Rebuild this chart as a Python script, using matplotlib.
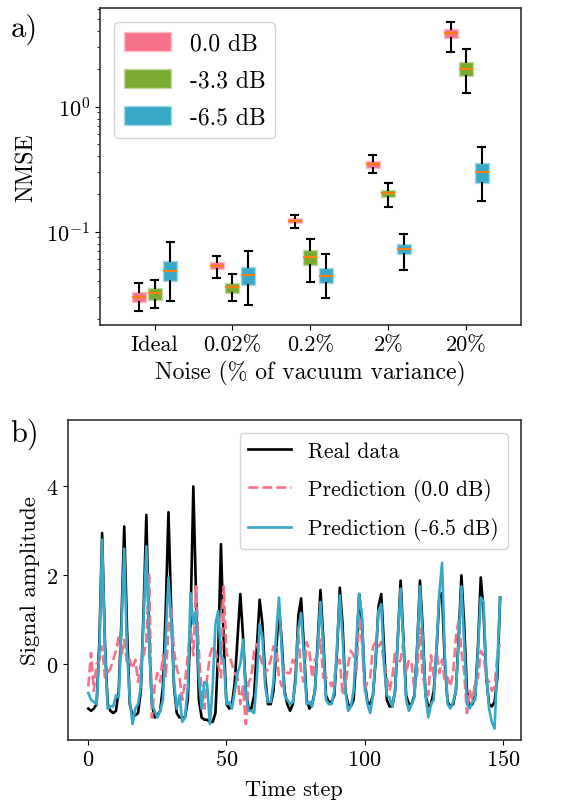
import matplotlib
matplotlib.use("Agg")
import matplotlib.pyplot as plt
from matplotlib.patches import Patch
from matplotlib.colors import to_rgb

plt.rcParams["font.family"] = ["cmr10", "DejaVu Sans"]
plt.rcParams["mathtext.fontset"] = "cm"
plt.rcParams["axes.formatter.use_mathtext"] = True
plt.rcParams["font.size"] = 16

# panel a: NMSE box statistics per attenuation level (rows) and noise level (columns)
noise_labels = ["Ideal", "0.02%", "0.2%", "2%", "20%"]
level_labels = ["0.0 dB", "-3.3 dB", "-6.5 dB"]
level_colors = ["#f77189", "#79ab31", "#38a9c6"]

nmse_median = [
    [0.0300, 0.0535, 0.1225, 0.346, 3.87],
    [0.0321, 0.0359, 0.0631, 0.203, 1.98],
    [0.0482, 0.0448, 0.0445, 0.0731, 0.302],
]
nmse_q1 = [
    [0.0275, 0.0503, 0.1167, 0.325, 3.52],
    [0.0284, 0.0321, 0.0545, 0.188, 1.74],
    [0.0401, 0.0377, 0.0389, 0.0663, 0.245],
]
nmse_q3 = [
    [0.0327, 0.0569, 0.128, 0.366, 4.16],
    [0.0352, 0.0387, 0.0714, 0.216, 2.29],
    [0.0586, 0.0519, 0.0515, 0.0797, 0.355],
]
nmse_low = [
    [0.0233, 0.0429, 0.1076, 0.293, 2.74],
    [0.0247, 0.0277, 0.0396, 0.156, 1.28],
    [0.0277, 0.0259, 0.0297, 0.0497, 0.175],
]
nmse_high = [
    [0.0387, 0.0640, 0.136, 0.408, 4.70],
    [0.0411, 0.0459, 0.0869, 0.245, 2.86],
    [0.0827, 0.0705, 0.0659, 0.0964, 0.479],
]

# panel b: time series
real_data = [
    -1.00, -1.05, -1.00, -0.90, 0.50, 2.95, 0.50, -0.90, -1.05, -1.10,
    -1.05, -0.60, 1.00, 3.10, 0.80, -0.90, -1.15, -1.15, -1.10, -0.60,
    1.20, 3.36, 0.60, -0.90, -1.20, -1.15, -1.05, -0.50, 1.20, 3.42,
    1.20, -0.50, -1.10, -1.20, -1.20, -1.20, -0.80, 1.00, 4.00, 1.50,
    -0.80, -1.20, -1.25, -1.25, -1.30, -1.30, -1.10, 0.30, 2.70, 0.50,
    -0.90, -1.00, -0.90, -0.40, 0.60, 1.58, 0.60, -0.60, -1.00, -1.00,
    -0.70, 0.40, 1.45, 0.90, -0.30, -0.90, -0.90, -0.60, 0.30, 1.30,
    0.50, -0.60, -0.90, -1.05, -0.90, -0.30, 1.10, 1.48, 0.40, -0.80,
    -1.00, -0.90, -0.60, 0.50, 1.67, 0.60, -0.70, -0.85, -0.85, -0.70,
    0.30, 1.72, 0.90, -0.60, -0.90, -0.95, -0.80, 0.20, 1.58, 1.00,
    -0.40, -0.85, -0.90, -0.70, 0.10, 1.30, 1.58, 0.40, -0.80, -0.95,
    -0.95, -0.60, 0.60, 1.88, 0.60, -0.70, -0.90, -0.90, -0.70, 0.40,
    1.88, 0.80, -0.70, -0.95, -0.90, -0.60, 0.30, 1.50, 1.60, 0.00,
    -0.85, -0.95, -0.90, -0.60, 0.60, 2.00, 0.90, -0.60, -0.95, -0.90,
    -0.70, 0.40, 1.95, 1.20, -0.30, -0.90, -0.95, -0.85, -0.30, 1.50,
]
pred_0db = [
    -0.50, 0.25, -0.60, 0.00, 0.10, 0.40, -0.30, -0.20, -0.10, 0.10,
    0.30, 0.60, 0.20, 0.55, 0.00, 0.10, -0.10, 0.10, -0.40, 0.00,
    0.20, 0.50, 2.05, -1.20, -0.50, -0.20, -0.40, 0.20, -0.30, 0.80,
    1.30, 0.30, -0.10, -0.30, -0.80, -0.40, 0.20, 0.80, 0.20, 1.75,
    0.30, -0.60, -1.00, -0.30, 0.20, 0.40, 0.30, 0.00, -0.30, 1.75,
    0.20, 0.20, 0.00, -0.20, -0.30, -0.90, -0.50, -1.35, -0.40, -0.30,
    0.30, 0.45, 0.20, 0.00, -0.20, -0.10, 0.10, 0.40, 0.40, -0.30,
    -0.50, -0.10, -0.20, -0.20, 0.10, 0.00, 0.70, -0.20, -0.40, 0.50,
    0.30, -0.30, 0.10, 0.20, 0.55, -0.30, -0.30, -0.35, -0.50, -0.30,
    0.00, 0.10, -0.70, -0.50, 0.00, 0.30, 0.20, -0.20, 1.05, 0.50,
    -0.60, -0.40, -0.30, 0.40, 0.50, 0.40, 0.50, 0.00, -0.30, -0.60,
    -0.30, 0.30, 0.00, 0.10, 0.50, -0.20, 0.10, 0.00, -0.60, -0.20,
    0.80, -0.30, -0.50, -0.70, 0.20, -0.30, 0.30, -0.20, 0.10, -0.40,
    -0.30, -0.50, -0.20, 0.60, 1.00, 0.30, -0.20, -1.10, -0.60, -0.80,
    -0.40, -0.30, 0.30, 0.20, -0.30, -0.40, -0.60, -0.50, 0.20, 0.50,
]
pred_65db = [
    -0.65, -0.80, -0.85, -0.90, 0.30, 2.80, 0.40, -1.00, -0.95, -0.95,
    -0.70, -0.75, 0.80, 2.60, 0.30, -0.80, -1.35, -1.00, -0.90, -0.50,
    1.00, 2.65, 0.50, -0.90, -1.05, -1.20, -1.05, -0.80, 0.60, 1.95,
    1.00, -0.40, -1.00, -0.70, -1.30, -1.20, -0.50, 1.60, 0.90, 1.20,
    -0.30, -1.00, -0.40, -0.45, -1.35, -0.50, 0.90, 1.20, 0.20, 0.10,
    -0.90, -0.85, -1.00, -0.60, -0.20, 0.00, 0.55, -0.70, -1.05, -1.05,
    -1.10, -0.30, 0.90, 0.60, -0.50, -0.85, -0.85, -0.40, 0.70, 1.50,
    0.30, -0.70, -0.80, -0.90, -0.85, -0.40, 0.80, 1.15, 0.20, -0.90,
    -0.85, -0.95, -0.60, 0.40, 1.40, 0.40, -0.80, -0.90, -0.90, -0.60,
    0.40, 1.55, 0.60, -0.60, -1.05, -0.95, -0.60, 0.50, 1.58, 1.10,
    -0.50, -0.90, -1.10, -0.70, 0.20, 1.20, 1.35, 0.00, -0.70, -0.75,
    -0.95, -0.60, 0.60, 1.70, 0.50, -0.80, -1.05, -0.90, -0.75, 0.40,
    1.75, 0.60, -0.70, -1.20, -0.90, -0.80, 0.40, 1.60, 2.28, 0.20,
    -0.90, -1.00, -0.85, -0.60, 0.50, 1.75, 0.50, -0.90, -1.00, -0.85,
    -0.80, 0.30, 1.50, 1.40, -0.20, -1.00, -1.30, -1.45, 0.00, 1.50,
]


def lighten(color, amount=0.5):
    r, g, b = to_rgb(color)
    return (r + (1 - r) * amount, g + (1 - g) * amount, b + (1 - b) * amount)


fig = plt.figure(figsize=(5.71, 8.04), dpi=100)
ax_a = fig.add_axes([0.1751, 0.5945, 0.7368, 0.3939])
ax_b = fig.add_axes([0.1186, 0.0787, 0.7933, 0.398])

for ax in (ax_a, ax_b):
    for spine in ax.spines.values():
        spine.set_color("0.2")
        spine.set_linewidth(1.2)

offsets = [-0.2, 0.0, 0.2]
for i, color in enumerate(level_colors):
    stats = []
    for j in range(len(noise_labels)):
        stats.append(
            {
                "med": nmse_median[i][j],
                "q1": nmse_q1[i][j],
                "q3": nmse_q3[i][j],
                "whislo": nmse_low[i][j],
                "whishi": nmse_high[i][j],
                "fliers": [],
            }
        )
    positions = [j + offsets[i] for j in range(len(noise_labels))]
    ax_a.bxp(
        stats,
        positions=positions,
        widths=0.18,
        patch_artist=True,
        showfliers=False,
        manage_ticks=False,
        boxprops={"facecolor": color, "edgecolor": lighten(color, 0.55), "linewidth": 1.0},
        medianprops={"color": "#ff7f0e", "linewidth": 1.5},
        whiskerprops={"color": "black", "linewidth": 1.5},
        capprops={"color": "black", "linewidth": 1.5},
    )

ax_a.set_yscale("log")
ax_a.set_ylim(0.0179, 6.1)
ax_a.set_xlim(-0.7, 4.7)
ax_a.set_xticks(range(len(noise_labels)))
ax_a.set_xticklabels(noise_labels)
ax_a.set_ylabel("NMSE", fontsize=17)
ax_a.yaxis.set_label_coords(-0.147, 0.5)
ax_a.set_xlabel("Noise (% of vacuum variance)", fontsize=17, labelpad=4)
handles = [Patch(facecolor=c, edgecolor=lighten(c, 0.55)) for c in level_colors]
ax_a.legend(handles, level_labels, loc="upper left", fontsize=17,
            handleheight=0.85, labelspacing=0.62, borderaxespad=0.6)

steps = list(range(len(real_data)))
ax_b.plot(steps, real_data, color="black", linewidth=1.9, label="Real data")
ax_b.plot(steps, pred_0db, color="#f77189", linewidth=1.9, linestyle="--", label="Prediction (0.0 dB)")
ax_b.plot(steps, pred_65db, color="#38a9c6", linewidth=1.9, label="Prediction (-6.5 dB)")
ax_b.set_ylim(-1.7, 5.5)
ax_b.set_yticks([0, 2, 4])
ax_b.set_xticks([0, 50, 100, 150])
ax_b.set_xlabel("Time step", labelpad=7)
ax_b.set_ylabel("Signal amplitude", fontsize=16.5)
ax_b.yaxis.set_label_coords(-0.062, 0.5)
ax_b.legend(loc="upper right", fontsize=15.5, labelspacing=0.78, borderaxespad=0.6)

fig.text(0.018, 0.964, "a)", fontsize=22, va="center")
fig.text(0.018, 0.460, "b)", fontsize=22, va="center")

fig.savefig("out.png", dpi=100)
